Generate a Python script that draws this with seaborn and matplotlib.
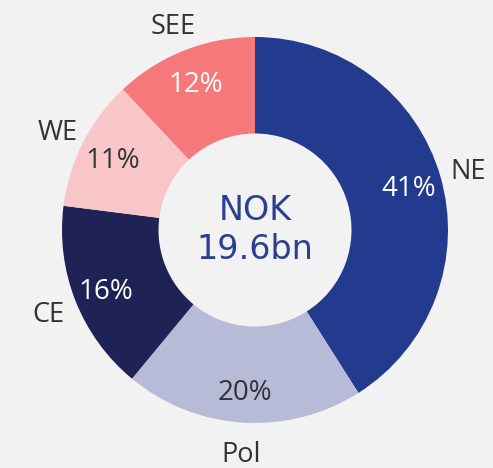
import matplotlib
matplotlib.use("Agg")
import matplotlib.pyplot as plt
import seaborn as sns

regions = ["NE", "Pol", "CE", "WE", "SEE"]
shares = [41, 20, 16, 11, 12]
colors = ["#233B8E", "#B8BBD7", "#1F2255", "#F8C6C9", "#F5787B"]
pct_colors = ["white", "#333333", "white", "#333333", "white"]
center_lines = ["NOK", "19.6bn"]

sns.set_theme(style="white")
plt.rcParams["font.family"] = ["Open Sans", "DejaVu Sans"]

W, H = 493, 468
fig = plt.figure(figsize=(W / 100, H / 100), dpi=100)
fig.patch.set_facecolor("#F2F2F2")
ax = fig.add_axes([0, 0, 1, 1])
ax.set_facecolor("#F2F2F2")

wedges, texts, autotexts = ax.pie(
    shares,
    labels=regions,
    colors=colors,
    startangle=90,
    counterclock=False,
    labeldistance=1.15,
    pctdistance=0.83,
    autopct=lambda p: f"{p:.0f}%",
    wedgeprops=dict(width=0.5, linewidth=0),
    textprops=dict(fontsize=20),
)
for t in texts:
    t.set_ha("center")
    t.set_va("center_baseline")
    t.set_color("#333333")
    t.set_fontsize(19.5)
for t, c in zip(autotexts, pct_colors):
    t.set_color(c)
    t.set_va("center_baseline")
    t.set_fontsize(20)

ax.text(0, 0.10, center_lines[0], ha="center", va="center", fontsize=24,
        color="#2B3F91", family=["DejaVu Sans"])
ax.text(0, -0.10, center_lines[1], ha="center", va="center", fontsize=24,
        color="#2B3F91", family=["DejaVu Sans"])

r = 193.0
cx, cy = 255.0, 230.0
ax.set_aspect("auto")
ax.set_xlim(-cx / r, (W - cx) / r)
ax.set_ylim(-(H - cy) / r, cy / r)
ax.axis("off")

fig.savefig("out.png", dpi=100, facecolor=fig.get_facecolor())
